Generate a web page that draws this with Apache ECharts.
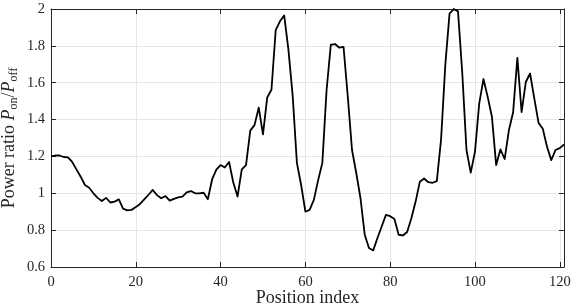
<!DOCTYPE html>
<html>
<head>
<meta charset="utf-8">
<script src="https://cdn.jsdelivr.net/npm/echarts@6/dist/echarts.min.js"></script>
<style>
html,body{margin:0;padding:0;background:#fff;}
#c{width:572px;height:308px;}
</style>
</head>
<body>
<div id="c"></div>
<script>
// Power ratio at each position index 0..121
var ratio = [
  1.200, 1.205, 1.205, 1.197, 1.195, 1.170, 1.130, 1.090, 1.045, 1.030,
  1.000, 0.975, 0.958, 0.975, 0.950, 0.955, 0.967, 0.917, 0.907, 0.910,
  0.925, 0.942, 0.967, 0.992, 1.018, 0.990, 0.973, 0.985, 0.960, 0.970,
  0.978, 0.982, 1.005, 1.012, 1.000, 1.000, 1.003, 0.968, 1.075, 1.128,
  1.153, 1.140, 1.170, 1.058, 0.982, 1.130, 1.153, 1.340, 1.370, 1.465,
  1.320, 1.520, 1.562, 1.885, 1.933, 1.965, 1.780, 1.530, 1.165, 1.045,
  0.900, 0.910, 0.964, 1.070, 1.165, 1.560, 1.806, 1.810, 1.790, 1.794,
  1.525, 1.235, 1.110, 0.973, 0.775, 0.703, 0.690, 0.757, 0.820, 0.883,
  0.876, 0.860, 0.775, 0.771, 0.790, 0.865, 0.955, 1.063, 1.080, 1.060,
  1.057, 1.066, 1.290, 1.695, 1.975, 2.000, 1.987, 1.655, 1.235, 1.112,
  1.225, 1.487, 1.620, 1.523, 1.415, 1.153, 1.238, 1.186, 1.342, 1.440,
  1.735, 1.440, 1.604, 1.650, 1.514, 1.382, 1.350, 1.252, 1.180, 1.235,
  1.245, 1.265
];
var xTicks = [0, 20, 40, 60, 80, 100, 120];
var yTicks = [0.6, 0.8, 1, 1.2, 1.4, 1.6, 1.8, 2];
var xTitle = 'Position index';

var FONT = 'Liberation Serif';
var AX = '#262626';
var chart = echarts.init(document.getElementById('c'), null, {renderer: 'canvas'});

var xMin = xTicks[0], xMax = 121, xInt = xTicks[1] - xTicks[0];
var yMin = yTicks[0], yMax = yTicks[yTicks.length - 1], yInt = 0.2;

function xFmt(v) { return xTicks.indexOf(Math.round(v)) >= 0 && Math.abs(v - Math.round(v)) < 1e-6 ? String(Math.round(v)) : ''; }
function yFmt(v) { var r = Math.round(v * 10) / 10; return String(r); }

var common = {
  axisLine: {show: true, onZero: false, lineStyle: {color: AX, width: 1}},
  axisTick: {show: true, inside: true, length: 5, lineStyle: {color: AX, width: 1}},
  minorTick: {show: false}
};

chart.setOption({
  animation: false,
  backgroundColor: '#fff',
  grid: {left: 51, right: 8, top: 9, bottom: 41, containLabel: false, outerBoundsMode: 'none'},
  xAxis: [
    Object.assign({
      type: 'value', position: 'bottom', min: xMin, max: xMax, interval: xInt,
      name: xTitle, nameLocation: 'middle', nameGap: 22, nameMoveOverlap: false,
      nameTextStyle: {fontFamily: FONT, fontSize: 18, color: AX},
      axisLabel: {fontFamily: FONT, fontSize: 14.5, color: AX, margin: 8, formatter: xFmt, showMaxLabel: true},
      splitLine: {show: true, lineStyle: {color: '#e6e6e6', width: 1}}
    }, common),
    Object.assign({
      type: 'value', position: 'top', min: xMin, max: xMax, interval: xInt,
      axisLabel: {show: false}, splitLine: {show: false}
    }, common)
  ],
  yAxis: [
    Object.assign({
      type: 'value', position: 'left', min: yMin, max: yMax, interval: yInt,
      name: '{t|Power ratio }{i|P}{s|on}{t|/}{i|P}{s|off}',
      nameLocation: 'middle', nameGap: 31, nameRotate: 90, nameMoveOverlap: false,
      nameTextStyle: {
        fontFamily: FONT, fontSize: 18, color: AX,
        rich: {
          t: {fontFamily: FONT, fontSize: 18, color: AX, lineHeight: 22, verticalAlign: 'middle'},
          i: {fontFamily: FONT, fontSize: 18, fontStyle: 'italic', color: AX, lineHeight: 22, verticalAlign: 'middle'},
          s: {fontFamily: FONT, fontSize: 12, color: AX, lineHeight: 22, verticalAlign: 'bottom'}
        }
      },
      axisLabel: {fontFamily: FONT, fontSize: 14.5, color: AX, margin: 6, formatter: yFmt},
      splitLine: {show: true, lineStyle: {color: '#e6e6e6', width: 1}}
    }, common),
    Object.assign({
      type: 'value', position: 'right', min: yMin, max: yMax, interval: yInt,
      axisLabel: {show: false}, splitLine: {show: false}
    }, common)
  ],
  series: [{
    type: 'line',
    xAxisIndex: 0, yAxisIndex: 0,
    data: ratio.map(function (v, i) { return [i, v]; }),
    showSymbol: false,
    symbol: 'none',
    lineStyle: {color: '#000', width: 1.8, join: 'round'},
    clip: false
  }]
});
</script>
</body>
</html>
